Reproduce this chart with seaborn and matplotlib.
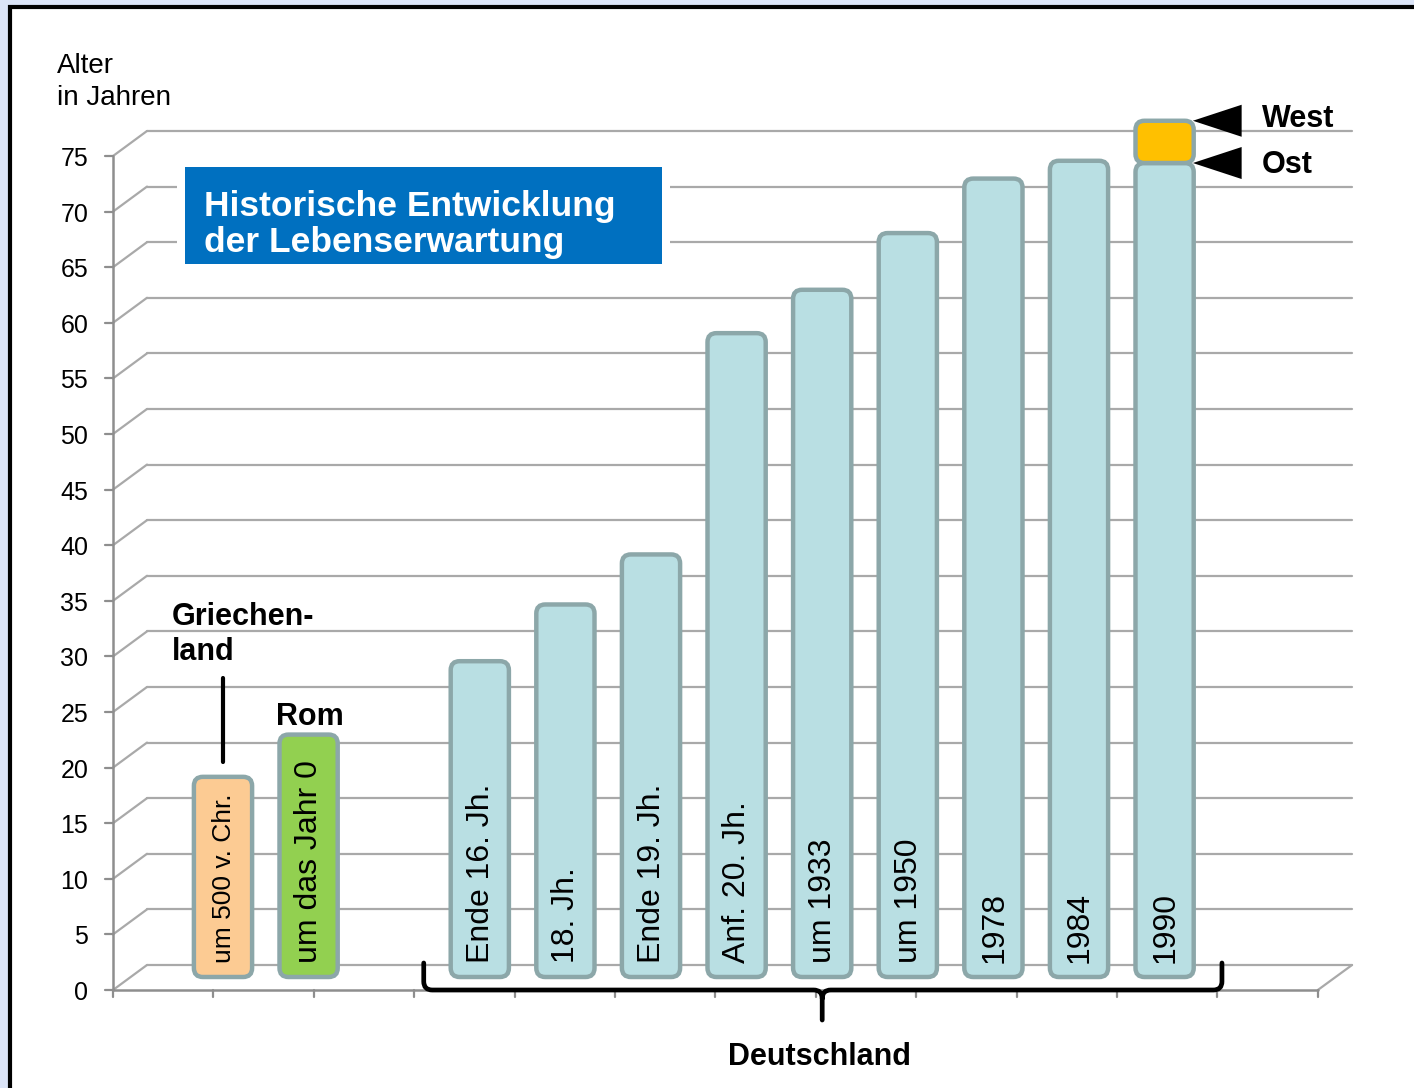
import numpy as np
import pandas as pd
import matplotlib
matplotlib.use("Agg")
import matplotlib.pyplot as plt
import seaborn as sns
from matplotlib.patches import FancyBboxPatch, Rectangle, Polygon, PathPatch
from matplotlib.path import Path

# --- data ---
labels = ["um 500 v. Chr.", "um das Jahr 0", "Ende 16. Jh.", "18. Jh.", "Ende 19. Jh.",
          "Anf. 20. Jh.", "um 1933", "um 1950", "1978", "1984", "1990"]
values = [18.0, 21.8, 28.4, 33.5, 38.0, 57.9, 61.8, 66.9, 71.8, 73.4, 73.2]
slots = [0, 1, 3, 4, 5, 6, 7, 8, 9, 10, 11]
groups = ["Griechenland", "Rom"] + ["Deutschland"] * 9
west_1990 = 77.0
yticks = list(range(0, 80, 5))

colors = {"Griechenland": "#fccb93", "Rom": "#92d050", "Deutschland": "#b9dfe3"}
edge = "#8ca7a9"
west_color = "#ffc000"
grid_color = "#a9a9a9"
axis_color = "#8e8e8e"

df = pd.DataFrame({"label": labels, "value": values, "slot": slots, "group": groups})

W, H = 1414, 1088
PX_X, PX_Y = 85.6, 11.12      # pixels per slot / per year
bar_w = 0.68

# pseudo 3d planes
front_x0, front_x1, front_dy = -1.285, 12.79, -1.17
back_x0, back_x1, back_dy = -0.888, 13.19, 1.08


def fx(px):
    return px / W


def fy(py):
    return 1 - py / H


sns.set_style("white")
plt.rcParams["font.family"] = ["Liberation Sans", "DejaVu Sans"]
plt.rcParams["text.color"] = "black"

fig = plt.figure(figsize=(W / 100, H / 100), dpi=100)
fig.patch.set_facecolor("#dbe4f7")
fig.add_artist(Rectangle((fx(10), fy(1100)), 1.2, fy(6.5) - fy(1100), transform=fig.transFigure,
                         facecolor="white", edgecolor="black", linewidth=3.0, zorder=0))

ax = fig.add_axes([0, 0, 1, 1])
ax.set_facecolor("none")

# grid on back wall + floor
for t in yticks:
    ax.plot([back_x0, back_x1], [t + back_dy, t + back_dy], color=grid_color, lw=1.6, zorder=1)
    ax.plot([front_x0, back_x0], [t + front_dy, t + back_dy], color=grid_color, lw=1.6, zorder=1)
ax.plot([front_x0, front_x1], [front_dy, front_dy], color=axis_color, lw=1.8, zorder=1)
ax.plot([front_x1, back_x1], [front_dy, back_dy], color=grid_color, lw=1.6, zorder=1)
ax.plot([front_x0, front_x0], [front_dy, yticks[-1] + front_dy], color=axis_color, lw=1.8, zorder=1)
for t in yticks:
    ax.plot([front_x0 - 0.093, front_x0], [t + front_dy] * 2, color=axis_color, lw=1.6, zorder=1)
    ax.text(front_x0 - 0.29, t + front_dy - 0.9, str(t), ha="right", va="baseline",
            fontsize=18, color="black")
for xt in np.linspace(front_x0, front_x1, 13):
    ax.plot([xt, xt], [front_dy, front_dy - 0.63], color=axis_color, lw=1.6, zorder=1)

# bars
sns.barplot(data=df, x="slot", y="value", hue="group", palette=colors, native_scale=True,
            width=bar_w, dodge=False, legend=False, errorbar=None, saturation=1, ax=ax)
aspect = PX_X / PX_Y
bars = list(ax.patches)
for p in bars:
    x, y = p.get_x(), p.get_y()
    w, h = p.get_width(), p.get_height()
    fc = p.get_facecolor()
    p.remove()
    ax.add_patch(FancyBboxPatch((x, y), w, h, boxstyle="round,pad=0,rounding_size=0.105",
                                mutation_aspect=aspect, facecolor=fc, edgecolor=edge,
                                linewidth=3.2, zorder=3))

# 1990 West segment on top
x90 = slots[-1]
ax.add_patch(FancyBboxPatch((x90 - bar_w / 2, values[-1]), bar_w, west_1990 - values[-1],
                            boxstyle="round,pad=0,rounding_size=0.105", mutation_aspect=aspect,
                            facecolor=west_color, edgecolor=edge, linewidth=3.2, zorder=4))

# labels inside bars
for lab, s in zip(labels, slots):
    fs = 19 if s == 0 else 23
    ax.text(s + 0.01, 1.26, lab, rotation=90, rotation_mode="anchor", ha="left", va="center",
            fontsize=fs, color="black", zorder=5)

# West / Ost markers
for val, name, off in [(west_1990, "West", -0.55), (values[-1], "Ost", -0.9)]:
    tip = x90 + bar_w / 2 - 0.01
    ax.add_patch(Polygon([(tip, val), (tip + 0.57, val + 1.44), (tip + 0.57, val - 1.44)],
                         closed=True, facecolor="black", edgecolor="none", zorder=5))
    ax.text(x90 + 1.14, val + off, name, fontsize=22, fontweight="bold", ha="left",
            va="baseline", zorder=5)

# Griechenland / Rom annotations
ax.plot([slots[0], slots[0]], [values[0] + 1.3, values[0] + 8.9], color="black", lw=3, zorder=5)
ax.text(slots[0] - 0.6, values[0] + 10.5, "Griechen-\nland", fontsize=22, fontweight="bold",
        ha="left", va="baseline", zorder=5)
ax.text(slots[1] + 0.01, values[1] + 0.2, "Rom", fontsize=22, fontweight="bold",
        ha="center", va="bottom", zorder=5)

# brace under Deutschland
L = slots[2] - 0.655
R = slots[-1] + 0.67
M = (slots[2] + slots[-1]) / 2
top, base, cusp = 1.26, front_dy, -3.87
rx, ry = 0.1, 0.77
verts = [(L, top), (L, base + ry), (L, base), (L + rx, base), (M - rx, base), (M, base),
         (M, base - ry), (M, cusp),
         (M, base - ry), (M, base), (M + rx, base), (R - rx, base), (R, base), (R, base + ry),
         (R, top)]
codes = [Path.MOVETO, Path.LINETO, Path.CURVE3, Path.CURVE3, Path.LINETO, Path.CURVE3,
         Path.CURVE3, Path.LINETO,
         Path.MOVETO, Path.CURVE3, Path.CURVE3, Path.LINETO, Path.CURVE3, Path.CURVE3,
         Path.LINETO]
ax.add_patch(PathPatch(Path(verts, codes), facecolor="none", edgecolor="black", lw=3.4,
                       capstyle="round", joinstyle="round", zorder=5))
ax.text(M - 0.03, -7.9, "Deutschland", fontsize=22, fontweight="bold", ha="center",
        va="baseline", zorder=5)

ax.set_xlim((0 - 223) / PX_X, (W - 223) / PX_X)
ax.set_ylim((977 - H) / PX_Y, 977 / PX_Y)
ax.axis("off")

# axis title and chart title
fig.text(fx(57), fy(105), "Alter\nin Jahren", fontsize=20, ha="left", va="baseline",
         linespacing=1.3)
fig.add_artist(Rectangle((fx(177), fy(272)), fx(670) - fx(177), fy(159) - fy(272),
                         transform=fig.transFigure, facecolor="white", edgecolor="none", zorder=6))
fig.add_artist(Rectangle((fx(185), fy(264)), fx(662) - fx(185), fy(167) - fy(264),
                         transform=fig.transFigure, facecolor="#0070c0", edgecolor="none", zorder=7))
fig.text(fx(204), fy(252), "Historische Entwicklung\nder Lebenserwartung", fontsize=25.5,
         fontweight="bold", color="white", ha="left", va="baseline", linespacing=1.12, zorder=8)

fig.savefig("out.png", dpi=100, facecolor=fig.get_facecolor())
